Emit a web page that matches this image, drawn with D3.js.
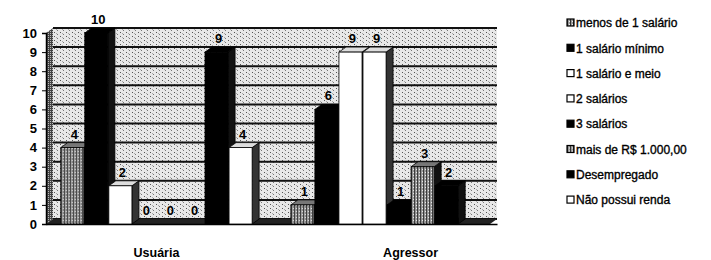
<!DOCTYPE html>
<html>
<head>
<meta charset="utf-8">
<script src="https://cdn.jsdelivr.net/npm/d3@7"></script>
<style>
  body { margin: 0; background: #fff; }
  text { font-family: "Liberation Sans", Arial, sans-serif; }
</style>
</head>
<body>
<div id="chart"></div>
<script>
// data
let groups = ['Usuária', 'Agressor'];
let seriesNames = ['menos de 1 salário', '1 salário mínimo', '1 salário e meio', '2 salários',
  '3 salários', 'mais de R$ 1.000,00', 'Desempregado', 'Não possui renda'];
let usuariaValues = [4, 10, 2, 0, 0, 0, 9, 4];
let agressorValues = [1, 6, 9, 9, 1, 3, 2, null]; // last one not shown in the scan
let yTicks = [0, 1, 2, 3, 4, 5, 6, 7, 8, 9, 10];

// fill for each series (pattern ids defined below)
let seriesFill = ['url(#hatch)', '#000', '#fff', '#fff', '#000', 'url(#hatch)', '#000', '#fff'];

let config = { svg: {}, margin: {}, plot: {} };
config.svg.width = 711;
config.svg.height = 260;
config.margin.top = 33;
config.margin.left = 46;
config.margin.right = 214;
config.margin.bottom = 36;
config.plot.x = config.margin.left;
config.plot.y = config.margin.top;
config.plot.width = config.svg.width - config.margin.left - config.margin.right;
config.plot.height = config.svg.height - config.margin.top - config.margin.bottom;
let depth = { dx: 7, dy: -5 };

function translate(x, y) {
  return 'translate(' + x + ',' + y + ')';
}

let svg = d3.select('#chart').append('svg')
  .attr('width', config.svg.width)
  .attr('height', config.svg.height);

// textures to imitate the halftone scan
let defs = svg.append('defs');
let wall = defs.append('pattern').attr('id', 'wall')
  .attr('width', 6).attr('height', 4).attr('patternUnits', 'userSpaceOnUse');
wall.append('rect').attr('width', 6).attr('height', 4).attr('fill', '#e8e8e8');
wall.append('rect').attr('x', 1).attr('y', 0).attr('width', 1).attr('height', 1).attr('fill', '#555');
wall.append('rect').attr('x', 4).attr('y', 2).attr('width', 1).attr('height', 1).attr('fill', '#777');
wall.append('rect').attr('x', 3).attr('y', 1).attr('width', 1).attr('height', 1).attr('fill', '#aaa');

let hatch = defs.append('pattern').attr('id', 'hatch')
  .attr('width', 3).attr('height', 3).attr('patternUnits', 'userSpaceOnUse');
hatch.append('rect').attr('width', 3).attr('height', 3).attr('fill', '#9a9a9a');
hatch.append('rect').attr('x', 0).attr('y', 0).attr('width', 1).attr('height', 3).attr('fill', '#333');
hatch.append('rect').attr('x', 2).attr('y', 1).attr('width', 1).attr('height', 1).attr('fill', '#eee');

let sideWall = defs.append('pattern').attr('id', 'sidewall')
  .attr('width', 2).attr('height', 2).attr('patternUnits', 'userSpaceOnUse');
sideWall.append('rect').attr('width', 2).attr('height', 2).attr('fill', '#444');
sideWall.append('rect').attr('width', 1).attr('height', 1).attr('fill', '#bbb');

let g = svg.append('g').attr('transform', translate(config.plot.x, config.plot.y));

let x0 = d3.scaleBand()
  .domain(groups)
  .range([0, config.plot.width])
  .paddingInner(0.16)
  .paddingOuter(0.06);

let x1 = d3.scaleBand()
  .domain(seriesNames)
  .range([0, x0.bandwidth()])
  .padding(0.04);

let y = d3.scaleLinear()
  .domain([0, 10])
  .range([config.plot.height, 0]);

// back wall with bands between gridlines
let wallG = g.append('g').attr('transform', translate(depth.dx, depth.dy));
wallG.append('rect')
  .attr('x', 0).attr('y', y(10))
  .attr('width', config.plot.width - depth.dx).attr('height', config.plot.height)
  .attr('fill', 'url(#wall)');
wallG.selectAll('line.grid')
  .data(yTicks)
  .enter()
  .append('line')
  .attr('x1', 0).attr('x2', config.plot.width - depth.dx)
  .attr('y1', d => y(d)).attr('y2', d => y(d))
  .attr('stroke', '#111').attr('stroke-width', 2);

// left side wall
g.append('path')
  .attr('d', 'M0,' + y(0) + 'L' + depth.dx + ',' + (y(0) + depth.dy) +
    'L' + depth.dx + ',' + (y(10) + depth.dy) + 'L0,' + y(10) + 'Z')
  .attr('fill', 'url(#sidewall)');

// floor
g.append('path')
  .attr('d', 'M0,' + y(0) + 'L' + depth.dx + ',' + (y(0) + depth.dy) +
    'L' + config.plot.width + ',' + (y(0) + depth.dy) + 'L' + (config.plot.width - depth.dx) + ',' + y(0) + 'Z')
  .attr('fill', '#222');

// y axis
let yAxis = g.append('g')
  .call(d3.axisLeft(y).tickValues(yTicks).tickSize(4).tickPadding(5).tickFormat(d3.format('d')));
yAxis.select('.domain').attr('stroke', '#000').attr('stroke-width', 1.5);
yAxis.selectAll('.tick line').attr('stroke', '#000');
yAxis.selectAll('text')
  .attr('font-size', 13).attr('font-weight', 'bold').attr('fill', '#000')
  .style('font-family', '"Liberation Sans", Arial, sans-serif');

// x axis
let xAxis = g.append('g')
  .attr('transform', translate(0, config.plot.height))
  .call(d3.axisBottom(x0).tickSize(0).tickPadding(24));
xAxis.select('.domain').attr('stroke', '#000').attr('stroke-width', 1.5);
xAxis.selectAll('text')
  .attr('font-size', 12.5).attr('font-weight', 'bold').attr('fill', '#000')
  .style('font-family', '"Liberation Sans", Arial, sans-serif');
// the scan prints the second category a bit to the right
xAxis.selectAll('.tick').filter(d => d === 'Agressor').select('text').attr('x', 24);

// bars
let rows = [];
groups.forEach(function(grp, gi) {
  let vals = gi === 0 ? usuariaValues : agressorValues;
  seriesNames.forEach(function(s, si) {
    if (vals[si] !== null) rows.push({ group: grp, series: s, index: si, value: vals[si] });
  });
});

let bars = g.selectAll('g.bar')
  .data(rows)
  .enter()
  .append('g')
  .attr('class', 'bar')
  .attr('transform', d => translate(x0(d.group) + x1(d.series), 0));

let bw = x1.bandwidth();

bars.filter(d => d.value > 0).append('path')
  .attr('d', d => 'M' + bw + ',' + y(d.value) + 'L' + (bw + depth.dx) + ',' + (y(d.value) + depth.dy) +
    'L' + (bw + depth.dx) + ',' + (y(0) + depth.dy) + 'L' + bw + ',' + y(0) + 'Z')
  .attr('fill', d => seriesFill[d.index] === '#fff' ? '#333' : '#111')
  .attr('stroke', '#000').attr('stroke-width', 0.8);

bars.filter(d => d.value > 0).append('path')
  .attr('d', d => 'M0,' + y(d.value) + 'L' + depth.dx + ',' + (y(d.value) + depth.dy) +
    'L' + (bw + depth.dx) + ',' + (y(d.value) + depth.dy) + 'L' + bw + ',' + y(d.value) + 'Z')
  .attr('fill', d => seriesFill[d.index] === '#fff' ? '#ddd' : (seriesFill[d.index] === '#000' ? '#000' : '#777'))
  .attr('stroke', '#000').attr('stroke-width', 0.8);

bars.append('rect')
  .attr('x', 0)
  .attr('y', d => y(d.value))
  .attr('width', bw)
  .attr('height', d => y(0) - y(d.value))
  .attr('fill', d => seriesFill[d.index])
  .attr('stroke', '#000')
  .attr('stroke-width', 0.8);

// value labels
bars.append('text')
  .attr('x', bw / 2 + 2)
  .attr('y', d => y(d.value) + depth.dy - 4)
  .attr('text-anchor', 'middle')
  .attr('font-size', 13)
  .attr('font-weight', 'bold')
  .attr('fill', '#000')
  .text(d => d.value);

// legend
let legend = svg.append('g').attr('transform', translate(567, 23));
let item = legend.selectAll('g.item')
  .data(seriesNames)
  .enter()
  .append('g')
  .attr('class', 'item')
  .attr('transform', (d, i) => translate(0, i * 25.3));
item.append('rect')
  .attr('x', 0).attr('y', -4)
  .attr('width', 7).attr('height', 7)
  .attr('fill', (d, i) => seriesFill[i])
  .attr('stroke', '#000').attr('stroke-width', 1.2);
item.append('text')
  .attr('x', 9)
  .attr('y', 0)
  .attr('dy', '0.35em')
  .attr('font-size', 12)
  .attr('fill', '#000')
  .attr('stroke', '#000').attr('stroke-width', 0.35)
  .text(d => d);
</script>
</body>
</html>
